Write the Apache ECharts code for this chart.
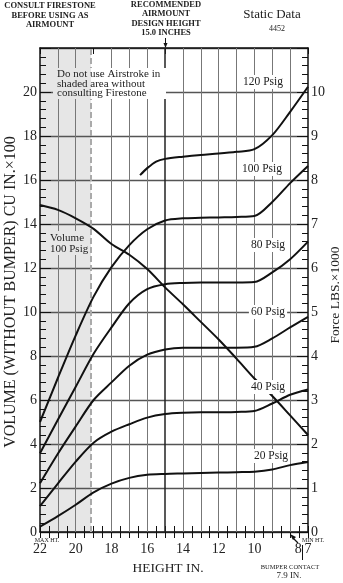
<!DOCTYPE html>
<html><head><meta charset="utf-8">
<script src="https://cdn.jsdelivr.net/npm/echarts/dist/echarts.min.js"></script>
<style>html,body{margin:0;padding:0;background:#fff}#c{width:343px;height:583px}</style>
</head><body><div id="c"></div>
<script>
// ---- data ----
const heights = [22,21,20,19,18,17,16,15,14,13,12,11,10,9,8,7];
const volume100 = [14.86,14.64,14.26,13.78,13.09,12.6,11.95,11.12,10.35,9.55,8.75,7.88,6.98,6.18,5.3,4.41];
const force20  = [0.12,0.36,0.62,0.9,1.1,1.23,1.3,1.32,1.33,1.34,1.35,1.36,1.37,1.42,1.52,1.59];
const force40  = [0.59,1.1,1.6,2.03,2.28,2.45,2.6,2.68,2.71,2.72,2.72,2.73,2.75,2.92,3.12,3.24];
const force60  = [1.11,1.78,2.4,3.0,3.4,3.78,4.03,4.15,4.19,4.19,4.19,4.19,4.21,4.4,4.65,4.89];
const force80  = [1.79,2.55,3.3,4.05,4.65,5.2,5.52,5.63,5.66,5.67,5.67,5.67,5.68,5.9,6.2,6.6];
const force100 = [2.5,3.5,4.47,5.35,6.02,6.52,6.88,7.08,7.13,7.14,7.15,7.16,7.18,7.5,7.93,8.32];
const force120Heights = [16.4,16,15.5,15,14,13,12,11,10,9,8,7];
const force120 = [8.11,8.27,8.42,8.48,8.53,8.57,8.6,8.64,8.7,9.02,9.55,10.12];
const xTickLabels = [22,20,18,16,14,12,10,8,7];
const gridHeights = [21,20,18,17,16,15,14,13,12,11,10,9,8];
const shadeFrom = 22, shadeTo = 19.15;
const designHeight = 15;

const FONT = 'Liberation Serif';
const pairs = (xs, ys) => xs.map((x,i)=>[x, ys[i]]);
const curve = (name, data, yIdx) => ({
  name, type:'line', xAxisIndex:0, yAxisIndex:yIdx, data,
  smooth:0.3, symbol:'none', showSymbol:false,
  lineStyle:{color:'#111', width:2}, z:5, silent:true
});

const chart = echarts.init(document.getElementById('c'), null, {renderer:'canvas'});
const axisLine = {show:true, onZero:false, lineStyle:{color:'#111', width:1.5}};
const noLine = {show:false};
const tick = (len) => ({show:true, inside:true, length:len, lineStyle:{color:'#111', width:1}});
const xLabelFmt = v => xTickLabels.includes(v) ? (v===8 ? '{s|8}' : String(v)) : '';

chart.setOption({
  animation:false,
  backgroundColor:'#fff',
  grid:{left:40, right:35, top:48, bottom:51, containLabel:false, outerBoundsMode:'none'},
  xAxis:[
    {type:'value', min:7, max:22, interval:1, inverse:true, position:'bottom', z:3,
     axisLine, axisTick:tick(6), splitLine:{show:false},
     axisLabel:{margin:10, color:'#222', fontFamily:FONT, fontSize:14, showMinLabel:true, showMaxLabel:true,
       formatter:xLabelFmt, rich:{s:{padding:[0,0,0,16], fontFamily:FONT, fontSize:14, color:'#222'}}}},
    {type:'value', min:7, max:22, interval:1, inverse:true, position:'top', z:3,
     axisLine, axisTick:tick(6), splitLine:{show:false}, axisLabel:{show:false}},
    {type:'value', min:7, max:22, interval:0.5, inverse:true, position:'bottom', z:3,
     axisLine:noLine, axisTick:tick(6), splitLine:{show:false}, axisLabel:{show:false}},
    {type:'value', min:7, max:22, interval:0.5, inverse:true, position:'top', z:3,
     axisLine:noLine, axisTick:tick(6), splitLine:{show:false}, axisLabel:{show:false}}
  ],
  yAxis:[
    {type:'value', min:0, max:22, interval:2, position:'left', z:3,
     axisLine, axisTick:tick(11),
     splitLine:{show:true, lineStyle:{color:'#555', width:1.3}},
     axisLabel:{formatter:v => v<=20 ? String(v) : '', margin:3, color:'#222', fontFamily:FONT, fontSize:14}},
    {type:'value', min:0, max:11, interval:1, position:'right', z:3,
     axisLine, axisTick:tick(11), splitLine:{show:false},
     axisLabel:{formatter:v => v<=10 ? String(v) : '', margin:3, color:'#222', fontFamily:FONT, fontSize:14}},
    {type:'value', min:0, max:22, interval:0.4, position:'left', z:3,
     axisLine:noLine, axisTick:tick(6), splitLine:{show:false}, axisLabel:{show:false}},
    {type:'value', min:0, max:11, interval:0.2, position:'right', z:3,
     axisLine:noLine, axisTick:tick(6), splitLine:{show:false}, axisLabel:{show:false}}
  ],
  series:[
    {type:'line', xAxisIndex:0, yAxisIndex:0, data:[], z:1, silent:true,
     markArea:{silent:true, itemStyle:{color:'#e6e6e6'}, data:[[{xAxis:shadeFrom},{xAxis:shadeTo}]]},
     markLine:{silent:true, symbol:'none', label:{show:false}, animation:false,
       lineStyle:{color:'#777', width:1, type:'solid'},
       data: gridHeights.map(h => h===designHeight
           ? {xAxis:h, lineStyle:{color:'#222', width:1.5, type:'solid'}}
           : {xAxis:h})
         .concat([{xAxis:shadeTo, lineStyle:{color:'#aaa', width:2, type:[6,3]}}])}},
    curve('Volume 100 Psig', pairs(heights, volume100), 0),
    curve('20 Psig', pairs(heights, force20), 1),
    curve('40 Psig', pairs(heights, force40), 1),
    curve('60 Psig', pairs(heights, force60), 1),
    curve('80 Psig', pairs(heights, force80), 1),
    curve('100 Psig', pairs(heights, force100), 1),
    curve('120 Psig', pairs(force120Heights, force120), 1)
  ],
  graphic:[
    {type:'text', z:10, x:11, y:292, rotation:Math.PI/2, style:{text:'VOLUME (WITHOUT BUMPER) CU IN.×100', fontFamily:FONT, fontSize:16, fill:'#222', align:'center', verticalAlign:'middle'}},
    {type:'text', z:10, x:335, y:295, rotation:Math.PI/2, style:{text:'Force LBS.×1000', fontFamily:FONT, fontSize:13.5, fill:'#222', align:'center', verticalAlign:'middle'}},
    {type:'text', z:10, x:50, y:1, style:{text:'CONSULT FIRESTONE\nBEFORE USING AS\nAIRMOUNT', fontFamily:FONT, fontWeight:'bold', fontSize:8.5, lineHeight:9.7, fill:'#222', align:'center', verticalAlign:'top'}},
    {type:'text', z:10, x:166, y:0, style:{text:'RECOMMENDED\nAIRMOUNT\nDESIGN HEIGHT\n15.0 INCHES', fontFamily:FONT, fontWeight:'bold', fontSize:8.5, lineHeight:9.4, fill:'#222', align:'center', verticalAlign:'top'}},
    {type:'line', z:10, shape:{x1:165.5, y1:38, x2:165.5, y2:47}, style:{stroke:'#111', lineWidth:1}},
    {type:'polygon', z:10, shape:{points:[[163.5,43],[167.5,43],[165.5,48]]}, style:{fill:'#111'}},
    {type:'text', z:10, x:272, y:15, style:{text:'Static Data', fontFamily:FONT, fontSize:13, fill:'#222', align:'center', verticalAlign:'middle'}},
    {type:'text', z:10, x:277, y:29, style:{text:'4452', fontFamily:FONT, fontSize:8, fill:'#222', align:'center', verticalAlign:'middle'}},
    {type:'rect', z:9, shape:{x:53, y:68, width:38, height:31}, style:{fill:'#e6e6e6'}},
    {type:'rect', z:9, shape:{x:91, y:68, width:75, height:31}, style:{fill:'#fff'}},
    {type:'text', z:10, x:57, y:69, style:{text:'Do not use Airstroke in\nshaded area without\nconsulting Firestone', fontFamily:FONT, fontSize:11, lineHeight:9.8, fill:'#222', align:'left', verticalAlign:'top'}},
    {type:'rect', z:9, shape:{x:48, y:231, width:42, height:24}, style:{fill:'#e6e6e6'}},
    {type:'text', z:10, x:50, y:233, style:{text:'Volume\n100 Psig', fontFamily:FONT, fontSize:11, lineHeight:10.5, fill:'#222', align:'left', verticalAlign:'top'}},
    {type:'text', z:10, x:263, y:82, style:{text:'120 Psig', fontFamily:FONT, fontSize:11.5, fill:'#222', align:'center', verticalAlign:'middle', backgroundColor:'#fff', padding:[1,2]}},
    {type:'text', z:10, x:262, y:169, style:{text:'100 Psig', fontFamily:FONT, fontSize:11.5, fill:'#222', align:'center', verticalAlign:'middle', backgroundColor:'#fff', padding:[1,2]}},
    {type:'text', z:10, x:268, y:245, style:{text:'80 Psig', fontFamily:FONT, fontSize:11.5, fill:'#222', align:'center', verticalAlign:'middle', backgroundColor:'#fff', padding:[1,2]}},
    {type:'text', z:10, x:268, y:312, style:{text:'60 Psig', fontFamily:FONT, fontSize:11.5, fill:'#222', align:'center', verticalAlign:'middle', backgroundColor:'#fff', padding:[1,2]}},
    {type:'text', z:10, x:268, y:387, style:{text:'40 Psig', fontFamily:FONT, fontSize:11.5, fill:'#222', align:'center', verticalAlign:'middle', backgroundColor:'#fff', padding:[1,2]}},
    {type:'text', z:10, x:271, y:456, style:{text:'20 Psig', fontFamily:FONT, fontSize:11.5, fill:'#222', align:'center', verticalAlign:'middle', backgroundColor:'#fff', padding:[1,2]}},
    {type:'text', z:10, x:168, y:568, style:{text:'HEIGHT IN.', fontFamily:FONT, fontSize:13.5, fill:'#222', align:'center', verticalAlign:'middle'}},
    {type:'text', z:10, x:47, y:540, style:{text:'MAX HT.', fontFamily:FONT, fontSize:6, fill:'#222', align:'center', verticalAlign:'middle'}},
    {type:'text', z:10, x:313, y:540, style:{text:'MIN HT.', fontFamily:FONT, fontSize:6, fill:'#222', align:'center', verticalAlign:'middle'}},
    {type:'text', z:10, x:290, y:567, style:{text:'BUMPER CONTACT', fontFamily:FONT, fontSize:6.5, fill:'#222', align:'center', verticalAlign:'middle'}},
    {type:'text', z:10, x:289, y:576, style:{text:'7.9 IN.', fontFamily:FONT, fontSize:9, fill:'#222', align:'center', verticalAlign:'middle'}},
    {type:'line', z:10, shape:{x1:302.5, y1:545, x2:302.5, y2:560}, style:{stroke:'#111', lineWidth:1}},
    {type:'line', z:10, shape:{x1:298, y1:543, x2:292, y2:537}, style:{stroke:'#111', lineWidth:1.2}},
    {type:'polygon', z:10, shape:{points:[[290,534],[296,537],[293,540]]}, style:{fill:'#111'}}
  ]
});
</script>
</body></html>
